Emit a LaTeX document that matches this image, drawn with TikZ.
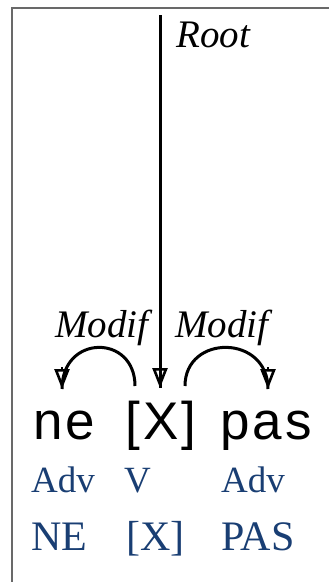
\documentclass[tikz,border=0pt]{standalone}
\usepackage{fontspec}
\setmainfont{Liberation Serif}
\newfontfamily\wordfont[LetterSpace=6]{Liberation Sans}
\usetikzlibrary{arrows.meta}
\definecolor{framegray}{RGB}{105,105,105}
\definecolor{tagblue}{RGB}{25,62,115}
\tikzset{
  word/.style={anchor=base west, inner sep=0pt, font=\wordfont\fontsize{53}{56}\selectfont},
  postag/.style={anchor=base west, inner sep=0pt, text=tagblue, font=\fontsize{37}{40}\selectfont},
  lemma/.style={anchor=base west, inner sep=0pt, text=tagblue, font=\fontsize{42}{46}\selectfont},
  rel/.style={anchor=base west, inner sep=0pt, font=\itshape\fontsize{39}{42}\selectfont},
  dep/.style={line width=3pt, black},
  tip/.style={line width=2.6pt, black, -{Triangle[open, length=20pt, width=15pt, line width=2.6pt]}},
}
\begin{document}
\begin{tikzpicture}[x=1pt, y=-1pt]
\useasboundingbox (0,0) rectangle (329,582);
% frame
\draw[framegray, line width=2.2pt] (329,8) -- (12,8) -- (12,582);
% words
\node[word] (ne) at (33,439) {ne};
\node[word] (X) at (125,439) {[X]};
\node[word] (pas) at (220,439) {pas};
% POS
\node[postag] (adv1) at (31,492) {Adv};
\node[postag] (v) at (124,492) {V};
\node[postag] (adv2) at (221,492) {Adv};
% lemmas
\node[lemma] (NE) at (31,550) {NE};
\node[lemma] (LX) at (126,550) {[X]};
\node[lemma] (PAS) at (221,550) {PAS};
% relation labels
\node[rel] (m1) at (55,337) {Modif};
\node[rel] (m2) at (175,337) {Modif};
\node[rel] (root) at (176,47) {Root};
% anchor points
\coordinate (rtop) at (160,15);
\coordinate (rtip) at (160,388);
\coordinate (l1s) at (135,386);
\coordinate (l1e) at (62,389);
\coordinate (l2s) at (185,386);
\coordinate (l2e) at (268,389);
% root
\draw[dep] (rtop) -- (rtip);
\draw[tip] ([yshift=22pt]rtip) -- (rtip);
% modif arcs
\draw[dep] (l1s) .. controls (135,334) and (62,334) .. (l1e);
\draw[tip] ([yshift=22pt]l1e) -- (l1e);
\draw[dep] (l2s) .. controls (185,334) and (268,334) .. (l2e);
\draw[tip] ([yshift=22pt]l2e) -- (l2e);
\end{tikzpicture}
\end{document}
